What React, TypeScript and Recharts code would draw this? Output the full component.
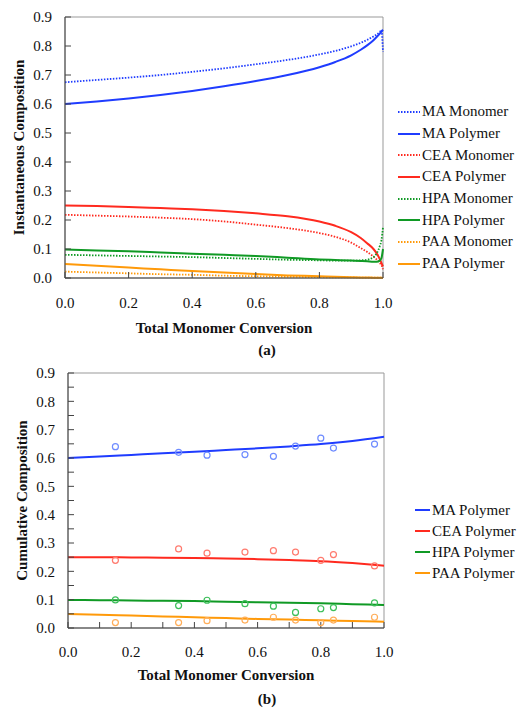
import React from "react";
import {
  LineChart,
  ComposedChart,
  Line,
  Scatter,
  XAxis,
  YAxis,
  Legend,
  Label,
  ReferenceArea,
} from "recharts";

const FONT = '"Liberation Serif", "Times New Roman", serif';
const INK = "#111";

const BLUE = "#1f3cff";
const RED = "#ff2a1f";
const GREEN = "#109a25";
const ORANGE = "#ff9a0a";

// (a) instantaneous composition
const conversion = [0, 0.1, 0.2, 0.3, 0.4, 0.5, 0.6, 0.7, 0.8, 0.85, 0.9, 0.93, 0.95, 0.97, 0.98, 0.99, 0.995, 1.0];
const maMonomer = [0.675, 0.683, 0.691, 0.7, 0.711, 0.723, 0.737, 0.752, 0.771, 0.783, 0.799, 0.811, 0.821, 0.833, 0.84, 0.848, 0.855, 0.78];
const maPolymer = [0.6, 0.609, 0.619, 0.631, 0.645, 0.661, 0.679, 0.7, 0.727, 0.745, 0.768, 0.787, 0.802, 0.82, 0.831, 0.843, 0.85, 0.856];
const ceaMonomer = [0.218, 0.215, 0.212, 0.208, 0.203, 0.195, 0.184, 0.172, 0.155, 0.142, 0.122, 0.103, 0.09, 0.074, 0.064, 0.052, 0.044, 0.03];
const ceaPolymer = [0.25, 0.248, 0.245, 0.241, 0.237, 0.231, 0.223, 0.213, 0.195, 0.18, 0.158, 0.138, 0.12, 0.1, 0.085, 0.065, 0.052, 0.04];
const hpaMonomer = [0.08, 0.078, 0.076, 0.074, 0.072, 0.069, 0.066, 0.063, 0.061, 0.06, 0.06, 0.061, 0.063, 0.072, 0.085, 0.11, 0.13, 0.175];
const hpaPolymer = [0.098, 0.095, 0.092, 0.088, 0.084, 0.08, 0.076, 0.07, 0.064, 0.062, 0.06, 0.059, 0.058, 0.056, 0.056, 0.06, 0.068, 0.1];
const paaMonomer = [0.022, 0.019, 0.016, 0.013, 0.011, 0.008, 0.006, 0.004, 0.003, 0.002, 0.002, 0.001, 0.001, 0.001, 0.001, 0.001, 0.001, 0];
const paaPolymer = [0.048, 0.042, 0.036, 0.03, 0.024, 0.019, 0.014, 0.009, 0.006, 0.004, 0.003, 0.002, 0.002, 0.001, 0.001, 0.001, 0.001, 0];

// (b) cumulative composition: model lines + measured points
const cumConversion = [0, 0.1, 0.2, 0.3, 0.4, 0.5, 0.6, 0.7, 0.8, 0.9, 1.0];
const maCum = [0.6, 0.605, 0.611, 0.617, 0.622, 0.628, 0.634, 0.641, 0.649, 0.66, 0.675];
const ceaCum = [0.25, 0.25, 0.249, 0.248, 0.247, 0.245, 0.243, 0.24, 0.236, 0.229, 0.22];
const hpaCum = [0.099, 0.098, 0.097, 0.096, 0.095, 0.093, 0.091, 0.089, 0.087, 0.084, 0.081];
const paaCum = [0.049, 0.047, 0.044, 0.041, 0.038, 0.035, 0.032, 0.03, 0.027, 0.025, 0.022];

const sampleConversion = [0.15, 0.35, 0.44, 0.56, 0.65, 0.72, 0.8, 0.84, 0.97];
const maMeasured = [0.64, 0.62, 0.61, 0.612, 0.606, 0.642, 0.67, 0.635, 0.649];
const ceaMeasured = [0.239, 0.279, 0.264, 0.268, 0.273, 0.268, 0.239, 0.259, 0.219];
const hpaMeasured = [0.099, 0.079, 0.098, 0.086, 0.077, 0.055, 0.068, 0.072, 0.089];
const paaMeasured = [0.019, 0.019, 0.026, 0.028, 0.038, 0.028, 0.019, 0.028, 0.038];

const xTicksA = [0, 0.2, 0.4, 0.6, 0.8, 1.0];
const yTicksA = [0, 0.1, 0.2, 0.3, 0.4, 0.5, 0.6, 0.7, 0.8, 0.9];
const xTicksB = [0, 0.1, 0.2, 0.3, 0.4, 0.5, 0.6, 0.7, 0.8, 0.9, 1.0];
const yTicksB = [0, 0.05, 0.1, 0.15, 0.2, 0.25, 0.3, 0.35, 0.4, 0.45, 0.5, 0.55, 0.6, 0.65, 0.7, 0.75, 0.8, 0.85, 0.9];

const instData = conversion.map((x, i) => ({
  x,
  maMon: maMonomer[i],
  maPol: maPolymer[i],
  ceaMon: ceaMonomer[i],
  ceaPol: ceaPolymer[i],
  hpaMon: hpaMonomer[i],
  hpaPol: hpaPolymer[i],
  paaMon: paaMonomer[i],
  paaPol: paaPolymer[i],
}));

const cumData = cumConversion.map((x, i) => ({ x, ma: maCum[i], cea: ceaCum[i], hpa: hpaCum[i], paa: paaCum[i] }));
const measured = sampleConversion.map((x, i) => ({
  x,
  ma: maMeasured[i],
  cea: ceaMeasured[i],
  hpa: hpaMeasured[i],
  paa: paaMeasured[i],
}));

const seriesA = [
  { key: "maMon", name: "MA Monomer", color: BLUE, dotted: true },
  { key: "maPol", name: "MA Polymer", color: BLUE, dotted: false },
  { key: "ceaMon", name: "CEA Monomer", color: RED, dotted: true },
  { key: "ceaPol", name: "CEA Polymer", color: RED, dotted: false },
  { key: "hpaMon", name: "HPA Monomer", color: GREEN, dotted: true },
  { key: "hpaPol", name: "HPA Polymer", color: GREEN, dotted: false },
  { key: "paaMon", name: "PAA Monomer", color: ORANGE, dotted: true },
  { key: "paaPol", name: "PAA Polymer", color: ORANGE, dotted: false },
];

const seriesB = [
  { key: "ma", name: "MA Polymer", color: BLUE, light: "#6f8cff", dotted: false },
  { key: "cea", name: "CEA Polymer", color: RED, light: "#ff7a6e", dotted: false },
  { key: "hpa", name: "HPA Polymer", color: GREEN, light: "#3cbf5a", dotted: false },
  { key: "paa", name: "PAA Polymer", color: ORANGE, light: "#ffae5a", dotted: false },
];

const tickStyle = { fontFamily: FONT, fontSize: 15, fill: INK };
const titleStyle = { fontFamily: FONT, fontSize: 15, fontWeight: "bold", fill: INK };

const LegendList = ({ items, sample, rowHeight }: any) => (
  <div style={{ fontFamily: FONT, fontSize: 15, color: INK }}>
    {items.map((s: any) => (
      <div key={s.key} style={{ display: "flex", alignItems: "center", height: rowHeight, whiteSpace: "nowrap" }}>
        <svg width={sample} height={6} style={{ marginRight: 2, flex: "none" }}>
          <line
            x1={0}
            y1={3}
            x2={sample}
            y2={3}
            stroke={s.color}
            strokeWidth={2}
            strokeDasharray={s.dotted ? "1.5 1.5" : undefined}
          />
        </svg>
        <span>{s.name}</span>
      </div>
    ))}
  </div>
);

// ticks every 0.05 on the y axis, labels only every 0.1
const MinorYTick = (props: any) => {
  const { x, y, payload } = props;
  if (Math.round(payload.value * 100) % 10 !== 0) return <g />;
  return (
    <text x={x} y={y} dy="0.35em" textAnchor="end" style={tickStyle}>
      {payload.value.toFixed(1)}
    </text>
  );
};

// ticks every 0.1 on the x axis, labels only every 0.2
const MinorXTick = (props: any) => {
  const { x, y, payload } = props;
  if (Math.round(payload.value * 10) % 2 !== 0) return <g />;
  return (
    <text x={x} y={y} dy="0.71em" textAnchor="middle" style={tickStyle}>
      {payload.value.toFixed(1)}
    </text>
  );
};

const PanelTag = ({ text, top }: any) => (
  <div
    style={{
      position: "absolute",
      left: 237,
      top,
      width: 60,
      textAlign: "center",
      fontFamily: FONT,
      fontSize: 15,
      fontWeight: "bold",
      lineHeight: "17px",
      color: INK,
    }}
  >
    {text}
  </div>
);

export default function App() {
  return (
    <div style={{ position: "absolute", left: 0, top: 0, width: 518, height: 708, background: "#fff" }}>
      <LineChart width={518} height={365} data={instData} margin={{ top: 17, right: 135, bottom: 27, left: 5 }}>
        <ReferenceArea x1={0} x2={1} y1={0} y2={0.9} fill="none" stroke="#999" strokeWidth={1} />
        <XAxis
          dataKey="x"
          type="number"
          domain={[0, 1]}
          ticks={xTicksA}
          interval={0}
          tickFormatter={(v: number) => v.toFixed(1)}
          tick={tickStyle}
          tickSize={-6}
          tickMargin={25}
          height={60}
          stroke="#444"
        >
          <Label value="Total Monomer Conversion" position="insideTop" offset={44} style={titleStyle} />
        </XAxis>
        <YAxis
          type="number"
          domain={[0, 0.9]}
          ticks={yTicksA}
          interval={0}
          tickFormatter={(v: number) => v.toFixed(1)}
          tick={tickStyle}
          tickSize={-6}
          tickMargin={19}
          width={60}
          stroke="#444"
        >
          <Label
            value="Instantaneous Composition"
            angle={-90}
            position="insideLeft"
            offset={14}
            style={{ ...titleStyle, textAnchor: "middle" }}
          />
        </YAxis>
        {seriesA.map((s) => (
          <Line
            key={s.key}
            dataKey={s.key}
            name={s.name}
            type="monotone"
            stroke={s.color}
            strokeWidth={s.dotted ? 1.8 : 2}
            strokeDasharray={s.dotted ? "1.5 1.5" : undefined}
            dot={false}
            isAnimationActive={false}
          />
        ))}
        <Legend
          layout="vertical"
          align="center"
          verticalAlign="middle"
          wrapperStyle={{ left: 398, top: 101, width: 120 }}
          content={() => <LegendList items={seriesA} sample={22} rowHeight={21.7} />}
        />
      </LineChart>
      <PanelTag text="(a)" top={342} />

      <ComposedChart width={518} height={343} data={cumData} margin={{ top: 8, right: 134, bottom: 20, left: 8 }}>
        <ReferenceArea x1={0} x2={1} y1={0} y2={0.9} fill="none" stroke="#999" strokeWidth={1} />
        <XAxis
          dataKey="x"
          type="number"
          domain={[0, 1]}
          ticks={xTicksB}
          interval={0}
          tickFormatter={(v: number) => v.toFixed(1)}
          tick={<MinorXTick />}
          tickSize={-6}
          tickMargin={24}
          height={60}
          stroke="#444"
        >
          <Label value="Total Monomer Conversion" position="insideTop" offset={41} style={titleStyle} />
        </XAxis>
        <YAxis
          type="number"
          domain={[0, 0.9]}
          ticks={yTicksB}
          interval={0}
          tickFormatter={(v: number) => v.toFixed(2)}
          tick={<MinorYTick />}
          tickSize={-6}
          tickMargin={19}
          width={60}
          stroke="#444"
        >
          <Label
            value="Cumulative Composition"
            angle={-90}
            position="insideLeft"
            offset={14}
            style={{ ...titleStyle, textAnchor: "middle" }}
          />
        </YAxis>
        {seriesB.map((s) => (
          <Line
            key={s.key}
            dataKey={s.key}
            name={s.name}
            type="monotone"
            stroke={s.color}
            strokeWidth={2}
            dot={false}
            isAnimationActive={false}
          />
        ))}
        {seriesB.map((s) => (
          <Scatter
            key={s.key + "-pts"}
            data={measured}
            dataKey={s.key}
            name={s.name + " data"}
            legendType="none"
            isAnimationActive={false}
            shape={(p: any) => <circle cx={p.cx} cy={p.cy} r={3} fill="none" stroke={s.light} strokeWidth={1.2} />}
          />
        ))}
        <Legend
          layout="vertical"
          align="center"
          verticalAlign="middle"
          wrapperStyle={{ left: 415, top: 134.5, width: 103 }}
          content={() => <LegendList items={seriesB} sample={15} rowHeight={21} />}
        />
      </ComposedChart>
      <PanelTag text="(b)" top={691} />
    </div>
  );
}
